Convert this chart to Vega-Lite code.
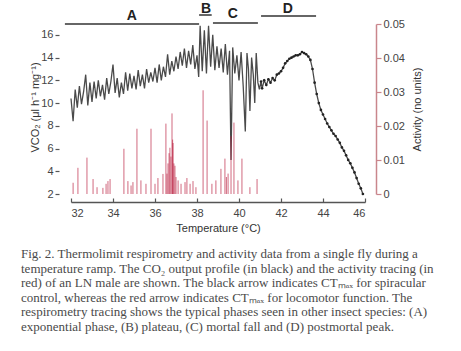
{
 "$schema": "https://vega.github.io/schema/vega-lite/v6.json",
 "width": 294,
 "height": 170,
 "autosize": {"type": "none"},
 "padding": {"left": 71, "top": 24, "right": 96, "bottom": 157},
 "background": "white",
 "config": {
  "view": {"stroke": null},
  "axis": {"labelFont": "Liberation Sans", "titleFont": "Liberation Sans", "labelColor": "#444", "titleColor": "#333", "labelFontSize": 11, "titleFontSize": 11, "titleFontWeight": "normal", "grid": false, "domainColor": "#555", "domainWidth": 1.5, "tickColor": "#555", "tickWidth": 1.2, "tickSize": 5, "labelPadding": 2, "labelOverlap": false, "tickCount": 20}
 },
 "title": {
  "text": [
   "Fig. 2. Thermolimit respirometry and activity data from a single fly during a",
   "temperature ramp. The CO₂ output profile (in black) and the activity tracing (in",
   "red) of an LN male are shown. The black arrow indicates CTₘₐₓ for spiracular",
   "control, whereas the red arrow indicates CTₘₐₓ for locomotor function. The",
   "respirometry tracing shows the typical phases seen in other insect species: (A)",
   "exponential phase, (B) plateau, (C) mortal fall and (D) postmortal peak."
  ],
  "orient": "bottom", "anchor": "start", "frame": "group", "dx": -50, "offset": 15,
  "font": "Liberation Serif", "fontSize": 13, "fontWeight": "normal", "color": "#4a4a4a", "lineHeight": 14.6
 },
 "datasets": {
  "co2": [
   {"T":32.0,"v":10.4},{"T":32.1,"v":8.4},{"T":32.2,"v":11.2},{"T":32.3,"v":9.6},{"T":32.4,"v":11.5},{"T":32.5,"v":9.9},{"T":32.6,"v":11.0},{"T":32.7,"v":12.5},{"T":32.8,"v":9.8},{"T":32.9,"v":11.8},
   {"T":33.0,"v":10.1},{"T":33.1,"v":11.9},{"T":33.2,"v":10.4},{"T":33.3,"v":12.0},{"T":33.4,"v":10.6},{"T":33.5,"v":11.6},{"T":33.6,"v":10.3},{"T":33.7,"v":12.2},{"T":33.8,"v":10.8},{"T":33.9,"v":11.9},
   {"T":34.0,"v":13.4},{"T":34.1,"v":10.9},{"T":34.2,"v":12.2},{"T":34.3,"v":10.5},{"T":34.4,"v":11.8},{"T":34.5,"v":10.8},{"T":34.6,"v":12.7},{"T":34.7,"v":11.1},{"T":34.8,"v":12.6},{"T":34.9,"v":11.3},
   {"T":35.0,"v":12.4},{"T":35.1,"v":11.2},{"T":35.2,"v":12.9},{"T":35.3,"v":11.5},{"T":35.4,"v":12.5},{"T":35.5,"v":11.3},{"T":35.6,"v":13.0},{"T":35.7,"v":11.8},{"T":35.8,"v":12.7},{"T":35.9,"v":11.9},
   {"T":36.0,"v":13.1},{"T":36.1,"v":11.8},{"T":36.2,"v":13.4},{"T":36.3,"v":12.0},{"T":36.4,"v":13.2},{"T":36.5,"v":12.3},{"T":36.6,"v":14.3},{"T":36.7,"v":12.5},{"T":36.8,"v":13.7},{"T":36.9,"v":12.8},
   {"T":37.0,"v":14.1},{"T":37.1,"v":13.0},{"T":37.2,"v":14.5},{"T":37.3,"v":13.3},{"T":37.4,"v":14.8},{"T":37.5,"v":13.1},{"T":37.6,"v":14.6},{"T":37.7,"v":13.4},{"T":37.8,"v":15.1},{"T":37.9,"v":13.0},
   {"T":38.0,"v":14.2},{"T":38.08,"v":12.3},{"T":38.15,"v":16.8},{"T":38.25,"v":12.8},{"T":38.35,"v":16.4},{"T":38.45,"v":12.6},{"T":38.55,"v":16.8},{"T":38.65,"v":13.2},{"T":38.75,"v":16.0},{"T":38.85,"v":12.9},
   {"T":38.95,"v":15.0},{"T":39.05,"v":13.1},{"T":39.15,"v":14.8},{"T":39.25,"v":12.7},{"T":39.35,"v":15.2},{"T":39.45,"v":12.5},{"T":39.55,"v":14.6},{"T":39.62,"v":5.0},{"T":39.7,"v":14.9},{"T":39.8,"v":12.6},
   {"T":39.9,"v":14.2},{"T":40.0,"v":12.0},{"T":40.1,"v":14.5},{"T":40.2,"v":11.5},{"T":40.3,"v":7.5},{"T":40.38,"v":14.4},{"T":40.45,"v":13.0},{"T":40.52,"v":9.3},{"T":40.6,"v":14.0},{"T":40.68,"v":12.5},
   {"T":40.75,"v":10.0},{"T":40.82,"v":14.4},{"T":40.9,"v":11.8},{"T":40.97,"v":11.2},{"T":41.05,"v":11.9},{"T":41.1,"v":11.3},{"T":41.2,"v":12.0},{"T":41.3,"v":11.6},{"T":41.4,"v":12.1},{"T":41.5,"v":11.8},
   {"T":41.6,"v":12.2},{"T":41.7,"v":12.0},{"T":41.8,"v":12.5},{"T":41.9,"v":12.6},{"T":42.0,"v":12.8},{"T":42.1,"v":13.1},{"T":42.2,"v":13.5},{"T":42.3,"v":13.7},{"T":42.4,"v":13.9},{"T":42.5,"v":14.0},
   {"T":42.6,"v":14.1},{"T":42.7,"v":14.2},{"T":42.8,"v":14.2},{"T":42.9,"v":14.3},{"T":43.0,"v":14.5},{"T":43.1,"v":14.4},{"T":43.2,"v":14.3},{"T":43.3,"v":14.1},{"T":43.4,"v":13.8},{"T":43.5,"v":13.0},
   {"T":43.6,"v":11.8},{"T":43.7,"v":10.8},{"T":43.8,"v":10.0},{"T":43.9,"v":9.4},{"T":44.0,"v":9.0},{"T":44.1,"v":8.6},{"T":44.2,"v":8.2},{"T":44.3,"v":7.9},{"T":44.4,"v":7.6},{"T":44.5,"v":7.3},
   {"T":44.6,"v":7.1},{"T":44.7,"v":6.8},{"T":44.8,"v":6.5},{"T":44.9,"v":6.1},{"T":45.0,"v":5.8},{"T":45.1,"v":5.4},{"T":45.2,"v":5.0},{"T":45.3,"v":4.7},{"T":45.4,"v":4.3},{"T":45.5,"v":3.9},
   {"T":45.6,"v":3.4},{"T":45.7,"v":2.9},{"T":45.8,"v":2.5},{"T":45.9,"v":2.0}
  ],
  "act": [
   {"T":32.10,"a":0.0033},{"T":32.33,"a":0.0077},{"T":32.76,"a":0.0107},{"T":33.05,"a":0.0044},{"T":33.24,"a":0.002},{"T":33.52,"a":0.0018},{"T":33.67,"a":0.003},{"T":33.76,"a":0.0038},{"T":33.86,"a":0.0044},
   {"T":34.52,"a":0.0133},{"T":34.71,"a":0.0038},{"T":34.86,"a":0.0025},{"T":34.95,"a":0.0035},{"T":35.14,"a":0.0192},{"T":35.33,"a":0.004},{"T":35.57,"a":0.003},{"T":35.81,"a":0.0192},{"T":36.0,"a":0.003},
   {"T":36.14,"a":0.0047},{"T":36.38,"a":0.0059},{"T":36.52,"a":0.0207},{"T":36.57,"a":0.006},{"T":36.62,"a":0.009},{"T":36.67,"a":0.012},{"T":36.71,"a":0.0136},{"T":36.76,"a":0.011},{"T":36.81,"a":0.0237},{"T":36.84,"a":0.016},{"T":36.86,"a":0.015},
   {"T":36.9,"a":0.009},{"T":36.95,"a":0.0083},{"T":37.0,"a":0.005},{"T":37.1,"a":0.004},{"T":37.24,"a":0.003},{"T":37.43,"a":0.0035},{"T":37.52,"a":0.0047},{"T":37.67,"a":0.003},{"T":37.81,"a":0.0038},{"T":37.95,"a":0.002},
   {"T":38.29,"a":0.0305},{"T":38.48,"a":0.0216},{"T":38.71,"a":0.003},{"T":38.9,"a":0.004},{"T":39.14,"a":0.0074},{"T":39.33,"a":0.0104},{"T":39.4,"a":0.005},{"T":39.48,"a":0.006},{"T":39.62,"a":0.017},{"T":39.76,"a":0.021},
   {"T":39.95,"a":0.004},{"T":40.14,"a":0.0104},{"T":40.52,"a":0.002},{"T":40.86,"a":0.0044}
  ],
  "phases": [
   {"phase":"A","start":31.71,"end":38.1,"level":16.96,"labelT":34.9,"labelV":17.66},
   {"phase":"B","start":38.1,"end":38.7,"level":17.75,"labelT":38.43,"labelV":18.3},
   {"phase":"C","start":38.76,"end":40.9,"level":17.05,"labelT":39.7,"labelV":17.85},
   {"phase":"D","start":41.05,"end":43.67,"level":17.67,"labelT":42.33,"labelV":18.3}
  ]
 },
 "layer": [
  {
   "layer": [
    {
     "data": {"name": "co2"},
     "mark": {"type": "line", "color": "#4a4a4a", "strokeWidth": 1.3},
     "encoding": {
      "x": {"field": "T", "type": "quantitative", "scale": {"domain": [32, 46], "nice": false, "zero": false},
            "axis": {"values": [32,34,36,38,40,42,44,46], "format": "d", "offset": 8, "tickSize": -4, "labelPadding": 9, "title": "Temperature (°C)", "titlePadding": 4}},
      "y": {"field": "v", "type": "quantitative", "scale": {"domain": [2, 16.96], "nice": false, "zero": false},
            "axis": {"values": [2,4,6,8,10,12,14,16], "format": "d", "offset": 12, "domain": false, "tickSize": 4, "labelPadding": 2, "title": "VCO₂ (μl h⁻¹ mg⁻¹)", "titleAngle": 270, "titleX": -24, "titleY": 83, "titleAlign": "center", "titleBaseline": "middle"}}
     }
    },
    {
     "data": {"name": "co2"},
     "transform": [{"filter": "datum.T >= 41"}],
     "mark": {"type": "point", "filled": true, "color": "#222", "size": 7, "opacity": 1},
     "encoding": {
      "x": {"field": "T", "type": "quantitative"},
      "y": {"field": "v", "type": "quantitative"}
     }
    },
    {
     "mark": {"type": "rule", "color": "#555", "strokeWidth": 1.5},
     "encoding": {
      "x": {"datum": 31.43, "type": "quantitative"},
      "y": {"datum": 1.95, "type": "quantitative"},
      "y2": {"datum": 16.05}
     }
    },
    {
     "data": {"name": "phases"},
     "mark": {"type": "rule", "color": "#666", "strokeWidth": 2},
     "encoding": {
      "x": {"field": "start", "type": "quantitative"},
      "x2": {"field": "end"},
      "y": {"field": "level", "type": "quantitative"}
     }
    },
    {
     "data": {"name": "phases"},
     "mark": {"type": "text", "font": "Liberation Sans", "fontWeight": "bold", "fontSize": 14, "color": "#222", "baseline": "middle"},
     "encoding": {
      "x": {"field": "labelT", "type": "quantitative"},
      "y": {"field": "labelV", "type": "quantitative"},
      "text": {"field": "phase"}
     }
    },
    {
     "mark": {"type": "rule", "color": "#000", "strokeWidth": 3},
     "encoding": {
      "x": {"datum": 41.1, "type": "quantitative"},
      "y": {"datum": 15.73, "type": "quantitative"},
      "y2": {"datum": 14.3}
     }
    },
    {
     "mark": {"type": "point", "shape": "M-0.8,-1L0.8,-1L0,1Z", "filled": true, "size": 169, "color": "#000", "opacity": 1},
     "encoding": {
      "x": {"datum": 41.1, "type": "quantitative"},
      "y": {"datum": 13.97, "type": "quantitative"}
     }
    }
   ]
  },
  {
   "layer": [
    {
     "mark": {"type": "rule", "color": "#d4707e", "strokeWidth": 1.2},
     "encoding": {
      "x": {"datum": 32, "type": "quantitative"},
      "x2": {"datum": 45.9},
      "y": {"datum": 0.0003, "type": "quantitative"}
     }
    },
    {
     "data": {"name": "act"},
     "mark": {"type": "rule", "color": "#b8183a", "strokeWidth": 1, "opacity": 0.65},
     "encoding": {
      "x": {"field": "T", "type": "quantitative"},
      "y": {"field": "a", "type": "quantitative", "scale": {"domain": [0, 0.05], "nice": false, "zero": false},
            "axis": {"orient": "right", "values": [0, 0.01, 0.02, 0.03, 0.04, 0.05], "labelExpr": "datum.value == 0 ? '0' : format(datum.value, '.2f')", "offset": 11, "domainColor": "#c9868c", "tickColor": "#c9868c", "title": "Activity (no units)", "titleAngle": 270, "titleX": 41, "titleY": 85, "titleAlign": "center", "titleBaseline": "middle"}},
      "y2": {"datum": 0}
     }
    },
    {
     "mark": {"type": "rule", "color": "#d0102a", "strokeWidth": 3.5},
     "encoding": {
      "x": {"datum": 40.86, "type": "quantitative"},
      "y": {"datum": 0.0148, "type": "quantitative"},
      "y2": {"datum": 0.0104}
     }
    },
    {
     "mark": {"type": "point", "shape": "M-0.8,-1L0.8,-1L0,1Z", "filled": true, "size": 200, "color": "#d0102a", "opacity": 1},
     "encoding": {
      "x": {"datum": 40.86, "type": "quantitative"},
      "y": {"datum": 0.0086, "type": "quantitative"}
     }
    }
   ]
  }
 ],
 "resolve": {"scale": {"y": "independent"}}
}
